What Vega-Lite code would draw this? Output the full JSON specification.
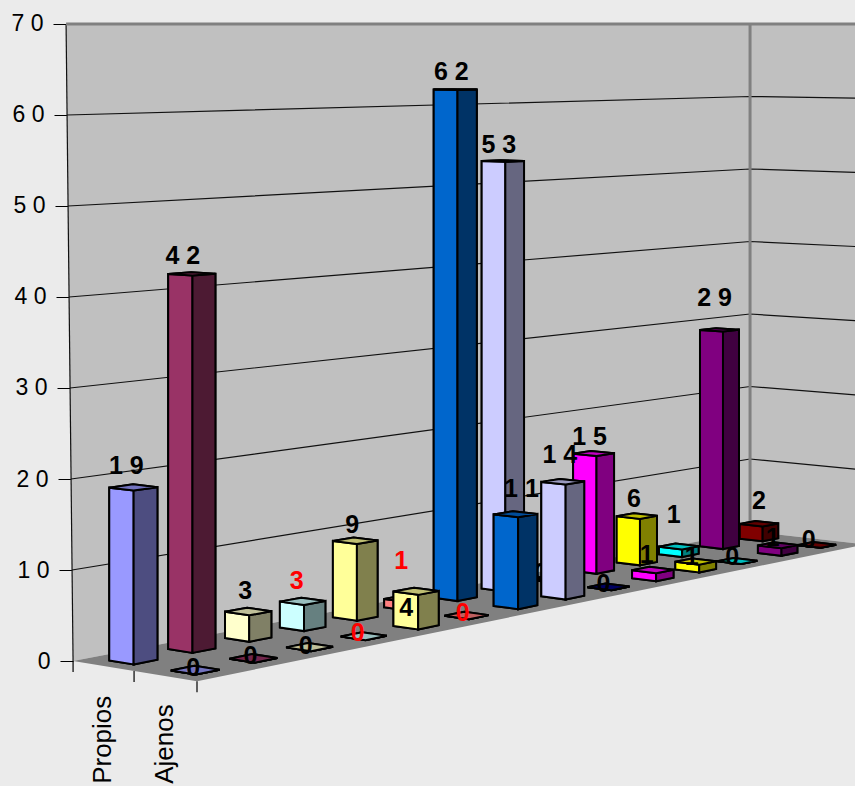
{
"$schema":"https://vega.github.io/schema/vega-lite/v6.json",
"width":855,"height":786,"padding":0,"autosize":{"type":"none"},"background":"#ebebeb",
"config":{"view":{"stroke":null}},
"resolve":{"scale":{"fill":"independent"}},
"datasets":{
"barras":[
{"categoria":1,"serie":"Propios","valor":19},{"categoria":2,"serie":"Propios","valor":42},{"categoria":3,"serie":"Propios","valor":3},{"categoria":4,"serie":"Propios","valor":3},{"categoria":5,"serie":"Propios","valor":9},{"categoria":6,"serie":"Propios","valor":1},{"categoria":7,"serie":"Propios","valor":62},{"categoria":8,"serie":"Propios","valor":53},{"categoria":9,"serie":"Propios","valor":0},{"categoria":10,"serie":"Propios","valor":15},{"categoria":11,"serie":"Propios","valor":6},{"categoria":12,"serie":"Propios","valor":1},{"categoria":13,"serie":"Propios","valor":29},{"categoria":14,"serie":"Propios","valor":2},
{"categoria":1,"serie":"Ajenos","valor":0},{"categoria":2,"serie":"Ajenos","valor":0},{"categoria":3,"serie":"Ajenos","valor":0},{"categoria":4,"serie":"Ajenos","valor":0},{"categoria":5,"serie":"Ajenos","valor":4},{"categoria":6,"serie":"Ajenos","valor":0},{"categoria":7,"serie":"Ajenos","valor":11},{"categoria":8,"serie":"Ajenos","valor":14},{"categoria":9,"serie":"Ajenos","valor":0},{"categoria":10,"serie":"Ajenos","valor":1},{"categoria":11,"serie":"Ajenos","valor":1},{"categoria":12,"serie":"Ajenos","valor":0},{"categoria":13,"serie":"Ajenos","valor":1},{"categoria":14,"serie":"Ajenos","valor":0}
],
"paredes":[
{"plano":"pared","esquina":"izq","nivel":0,"orden":0},{"plano":"pared","esquina":"fondo","nivel":0,"orden":1},{"plano":"pared","esquina":"der","nivel":0,"orden":2},{"plano":"pared","esquina":"der","nivel":70,"orden":3},{"plano":"pared","esquina":"fondo","nivel":70,"orden":4},{"plano":"pared","esquina":"izq","nivel":70,"orden":5},
{"plano":"suelo","esquina":"izq","nivel":0,"orden":0},{"plano":"suelo","esquina":"frente","nivel":0,"orden":1},{"plano":"suelo","esquina":"der","nivel":0,"orden":2},{"plano":"suelo","esquina":"fondo","nivel":0,"orden":3}
],
"lineas":[
{"linea":"g10","esquina":"izq","nivel":10,"orden":0},{"linea":"g10","esquina":"fondo","nivel":10,"orden":1},{"linea":"g10","esquina":"der","nivel":10,"orden":2},
{"linea":"g20","esquina":"izq","nivel":20,"orden":0},{"linea":"g20","esquina":"fondo","nivel":20,"orden":1},{"linea":"g20","esquina":"der","nivel":20,"orden":2},
{"linea":"g30","esquina":"izq","nivel":30,"orden":0},{"linea":"g30","esquina":"fondo","nivel":30,"orden":1},{"linea":"g30","esquina":"der","nivel":30,"orden":2},
{"linea":"g40","esquina":"izq","nivel":40,"orden":0},{"linea":"g40","esquina":"fondo","nivel":40,"orden":1},{"linea":"g40","esquina":"der","nivel":40,"orden":2},
{"linea":"g50","esquina":"izq","nivel":50,"orden":0},{"linea":"g50","esquina":"fondo","nivel":50,"orden":1},{"linea":"g50","esquina":"der","nivel":50,"orden":2},
{"linea":"g60","esquina":"izq","nivel":60,"orden":0},{"linea":"g60","esquina":"fondo","nivel":60,"orden":1},{"linea":"g60","esquina":"der","nivel":60,"orden":2},
{"linea":"izquierda","esquina":"izq","nivel":0,"orden":0},{"linea":"izquierda","esquina":"izq","nivel":70,"orden":1},
{"linea":"superior","esquina":"izq","nivel":70,"orden":0},{"linea":"superior","esquina":"fondo","nivel":70,"orden":1},{"linea":"superior","esquina":"der","nivel":70,"orden":2},
{"linea":"fondo","esquina":"fondo","nivel":0,"orden":0},{"linea":"fondo","esquina":"fondo","nivel":70,"orden":1}
],
"profundidad":[{"marca":"Propios","fila":1.5,"tic":1},{"marca":"Ajenos","fila":0.5,"tic":0},{"marca":"","fila":2,"tic":2}]
},
"layer":[
{"data":{"name":"paredes"},
 "transform":[
  {"calculate":"(datum.esquina=='fondo'||datum.esquina=='der')?14:0","as":"U"},
  {"calculate":"(datum.esquina=='izq'||datum.esquina=='fondo')?2:0","as":"V"},
  {"calculate":"1+0.0188*datum.U+0.01595*datum.V","as":"W"},
  {"calculate":"(197+64*datum.U-60.8*datum.V)/datum.W","as":"p"},
  {"calculate":"datum.p-(datum.nivel/70)*7*max(0,750-datum.p)/677","as":"px"},
  {"calculate":"70-(70-datum.nivel)*(9.39/datum.W)/9.1","as":"lev"}],
 "mark":{"type":"line","interpolate":"linear-closed","strokeWidth":0},
 "encoding":{
  "x":{"field":"px","type":"quantitative","scale":{"domain":[0,855],"nice":false,"zero":false},"axis":null},
  "y":{"field":"lev","type":"quantitative","scale":{"domain":[-13.736,72.637],"nice":false,"zero":false},
   "axis":{"orient":"left","offset":-73,"values":[0,10,20,30,40,50,60,70],"title":null,"grid":false,"domain":false,"tickColor":"#000","tickWidth":1,"tickSize":{"expr":"13+datum.value*0.1"},"labelPadding":10,"labelFont":"Liberation Sans","labelFontSize":23,"labelColor":"#000","labelExpr":"join(split(datum.label,''),' ')","labelBaseline":"middle"}},
  "order":{"field":"orden","type":"quantitative"},
  "fill":{"field":"plano","type":"nominal","scale":{"domain":["pared","suelo"],"range":["#c0c0c0","#808080"]},"legend":null}
 }},
{"data":{"name":"lineas"},
 "transform":[
  {"calculate":"(datum.esquina=='fondo'||datum.esquina=='der')?14:0","as":"U"},
  {"calculate":"(datum.esquina=='izq'||datum.esquina=='fondo')?2:0","as":"V"},
  {"calculate":"1+0.0188*datum.U+0.01595*datum.V","as":"W"},
  {"calculate":"(197+64*datum.U-60.8*datum.V)/datum.W","as":"p"},
  {"calculate":"datum.p-(datum.nivel/70)*7*max(0,750-datum.p)/677","as":"px"},
  {"calculate":"70-(70-datum.nivel)*(9.39/datum.W)/9.1","as":"lev"}],
 "mark":{"type":"line"},
 "encoding":{
  "x":{"field":"px","type":"quantitative"},
  "y":{"field":"lev","type":"quantitative"},
  "order":{"field":"orden","type":"quantitative"},
  "detail":{"field":"linea"},
  "color":{"condition":{"test":"datum.linea=='superior'||datum.linea=='fondo'","value":"#808080"},"value":"#111111"},
  "strokeWidth":{"condition":{"test":"datum.linea=='superior'||datum.linea=='fondo'","value":3},"value":1.2}
 }},
{"data":{"name":"profundidad"},
 "transform":[
  {"calculate":"1+0.01595*datum.tic","as":"W"},
  {"calculate":"(197-60.8*datum.tic)/datum.W","as":"px"},
  {"calculate":"70-70*(9.39/datum.W)/9.1","as":"lev"},
  {"calculate":"datum.lev-1.2","as":"lev2"}],
 "mark":{"type":"rule","color":"#000","strokeWidth":1.2},
 "encoding":{"x":{"field":"px","type":"quantitative"},"y":{"field":"lev","type":"quantitative"},"y2":{"field":"lev2"}}},
{"data":{"name":"barras"},
 "transform":[
  {"filter":"datum.serie=='Propios'"},
  {"calculate":"['izq','der','sup']","as":"cara"},{"flatten":["cara"]},
  {"calculate":"datum.cara=='izq'?[{o:0,a:-1,b:1,t:0},{o:1,a:-1,b:-1,t:0},{o:2,a:-1,b:-1,t:1},{o:3,a:-1,b:1,t:1}]:(datum.cara=='der'?[{o:0,a:-1,b:-1,t:0},{o:1,a:1,b:-1,t:0},{o:2,a:1,b:-1,t:1},{o:3,a:-1,b:-1,t:1}]:[{o:0,a:-1,b:1,t:1},{o:1,a:-1,b:-1,t:1},{o:2,a:1,b:-1,t:1},{o:3,a:1,b:1,t:1}])","as":"vert"},{"flatten":["vert"]},
  {"calculate":"datum.vert.o","as":"o"},
  {"calculate":"datum.categoria-0.5+0.2*datum.vert.a","as":"U"},
  {"calculate":"1.5+0.2*datum.vert.b","as":"V"},
  {"calculate":"1+0.0188*datum.U+0.01595*datum.V","as":"W"},
  {"calculate":"(197+64*datum.U-60.8*datum.V)/datum.W","as":"px"},
  {"calculate":"70-(70-datum.vert.t*datum.valor)*(9.39/datum.W)/9.1","as":"lev"},
  {"calculate":"datum.categoria+datum.cara","as":"clave"},
  {"calculate":"datum.cara=='izq'?1:(datum.cara=='sup'?0.75:0.5)","as":"luz"}],
 "encoding":{
  "x":{"field":"px","type":"quantitative"},"y":{"field":"lev","type":"quantitative"},
  "order":{"field":"o","type":"quantitative"},"detail":{"field":"clave"}},
 "layer":[
  {"mark":{"type":"line","interpolate":"linear-closed","fill":"#000","stroke":"#000","strokeWidth":2}},
  {"mark":{"type":"line","interpolate":"linear-closed","stroke":"#000","strokeWidth":2},
   "encoding":{"fill":{"field":"categoria","type":"nominal","scale":{"domain":[1,2,3,4,5,6,7,8,9,10,11,12,13,14],"range":["#9999FF","#993366","#FFFFCC","#CCFFFF","#FFFF99","#FF8080","#0066CC","#CCCCFF","#000080","#FF00FF","#FFFF00","#00FFFF","#800080","#800000"]},"legend":null},
    "fillOpacity":{"field":"luz","type":"quantitative","scale":null}}}
 ]},
{"data":{"name":"barras"},
 "transform":[
  {"filter":"datum.serie=='Propios'&&datum.categoria==9"},
  {"calculate":"1+0.0188*(datum.categoria-0.5)+0.01595*1.5","as":"W"},
  {"calculate":"(197+64*(datum.categoria-0.5)-60.8*1.5)/datum.W-8","as":"px"},
  {"calculate":"70-(70-datum.valor)*(9.39/datum.W)/9.1+6/9.1","as":"lev"},
  {"calculate":"''+datum.valor","as":"rotulo"}],
 "mark":{"type":"text","font":"Liberation Sans","fontWeight":"bold","fontSize":25,"baseline":"middle","align":"center","color":"#000"},
 "encoding":{"x":{"field":"px","type":"quantitative"},"y":{"field":"lev","type":"quantitative"},"text":{"field":"rotulo"}}},
{"data":{"name":"barras"},
 "transform":[
  {"filter":"datum.serie=='Ajenos'"},
  {"calculate":"['izq','der','sup']","as":"cara"},{"flatten":["cara"]},
  {"calculate":"datum.cara=='izq'?[{o:0,a:-1,b:1,t:0},{o:1,a:-1,b:-1,t:0},{o:2,a:-1,b:-1,t:1},{o:3,a:-1,b:1,t:1}]:(datum.cara=='der'?[{o:0,a:-1,b:-1,t:0},{o:1,a:1,b:-1,t:0},{o:2,a:1,b:-1,t:1},{o:3,a:-1,b:-1,t:1}]:[{o:0,a:-1,b:1,t:1},{o:1,a:-1,b:-1,t:1},{o:2,a:1,b:-1,t:1},{o:3,a:1,b:1,t:1}])","as":"vert"},{"flatten":["vert"]},
  {"calculate":"datum.vert.o","as":"o"},
  {"calculate":"datum.categoria-0.5+0.2*datum.vert.a","as":"U"},
  {"calculate":"0.5+0.2*datum.vert.b","as":"V"},
  {"calculate":"1+0.0188*datum.U+0.01595*datum.V","as":"W"},
  {"calculate":"(197+64*datum.U-60.8*datum.V)/datum.W","as":"px"},
  {"calculate":"70-(70-datum.vert.t*datum.valor)*(9.39/datum.W)/9.1","as":"lev"},
  {"calculate":"datum.categoria+datum.cara","as":"clave"},
  {"calculate":"datum.cara=='izq'?1:(datum.cara=='sup'?0.75:0.5)","as":"luz"}],
 "encoding":{
  "x":{"field":"px","type":"quantitative"},"y":{"field":"lev","type":"quantitative"},
  "order":{"field":"o","type":"quantitative"},"detail":{"field":"clave"}},
 "layer":[
  {"mark":{"type":"line","interpolate":"linear-closed","fill":"#000","stroke":"#000","strokeWidth":2}},
  {"mark":{"type":"line","interpolate":"linear-closed","stroke":"#000","strokeWidth":2},
   "encoding":{"fill":{"field":"categoria","type":"nominal","scale":{"domain":[1,2,3,4,5,6,7,8,9,10,11,12,13,14],"range":["#9999FF","#993366","#FFFFCC","#CCFFFF","#FFFF99","#FF8080","#0066CC","#CCCCFF","#000080","#FF00FF","#FFFF00","#00FFFF","#800080","#800000"]},"legend":null},
    "fillOpacity":{"field":"luz","type":"quantitative","scale":null}}}
 ]},
{"data":{"name":"barras"},
 "transform":[
  {"filter":"!(datum.serie=='Propios'&&datum.categoria==9)"},
  {"calculate":"datum.serie=='Propios'?1.5:0.5","as":"V"},
  {"calculate":"datum.categoria-0.5","as":"U"},
  {"calculate":"1+0.0188*datum.U+0.01595*datum.V","as":"W"},
  {"calculate":"datum.serie=='Propios'?[-21,-18,-20,-20,-16,-38,-18,-16,-6,-16,-17,-31,-32,-23][datum.categoria-1]:[-2,-2,-1,-3,17,-2,-25,-27,-3,-15,-5,-4,-7,-5][datum.categoria-1]","as":"dy"},
  {"calculate":"datum.serie=='Propios'?[-7,-9,-3,-6,-3,-5,-4,-4,-8,-4,-3,-5,-5,0][datum.categoria-1]:[-2,-3,-4,-6,-10,-4,6,-3,-5,-6,-4,-5,-5,-8][datum.categoria-1]","as":"dx"},
  {"calculate":"(197+64*datum.U-60.8*datum.V)/datum.W+datum.dx","as":"px"},
  {"calculate":"70-(70-datum.valor)*(9.39/datum.W)/9.1-datum.dy/9.1","as":"lev"},
  {"calculate":"join(split(''+datum.valor,''),' ')","as":"rotulo"}],
 "mark":{"type":"text","font":"Liberation Sans","fontWeight":"bold","fontSize":25,"baseline":"middle","align":"center"},
 "encoding":{
  "x":{"field":"px","type":"quantitative"},"y":{"field":"lev","type":"quantitative"},
  "text":{"field":"rotulo"},
  "color":{"condition":{"test":"datum.categoria==4||datum.categoria==6","value":"#ff0000"},"value":"#000000"}
 }},
{"data":{"name":"profundidad"},
 "transform":[{"filter":"datum.marca!=''"},
  {"calculate":"1+0.01595*datum.fila","as":"W"},
  {"calculate":"(197-60.8*datum.fila)/datum.W","as":"px"}],
 "mark":{"type":"text","font":"Liberation Sans","fontSize":26,"angle":270,"align":"left","baseline":"middle","color":"#000"},
 "encoding":{"x":{"field":"px","type":"quantitative"},"y":{"datum":-13.5},"text":{"field":"marca"}}}
]
}
